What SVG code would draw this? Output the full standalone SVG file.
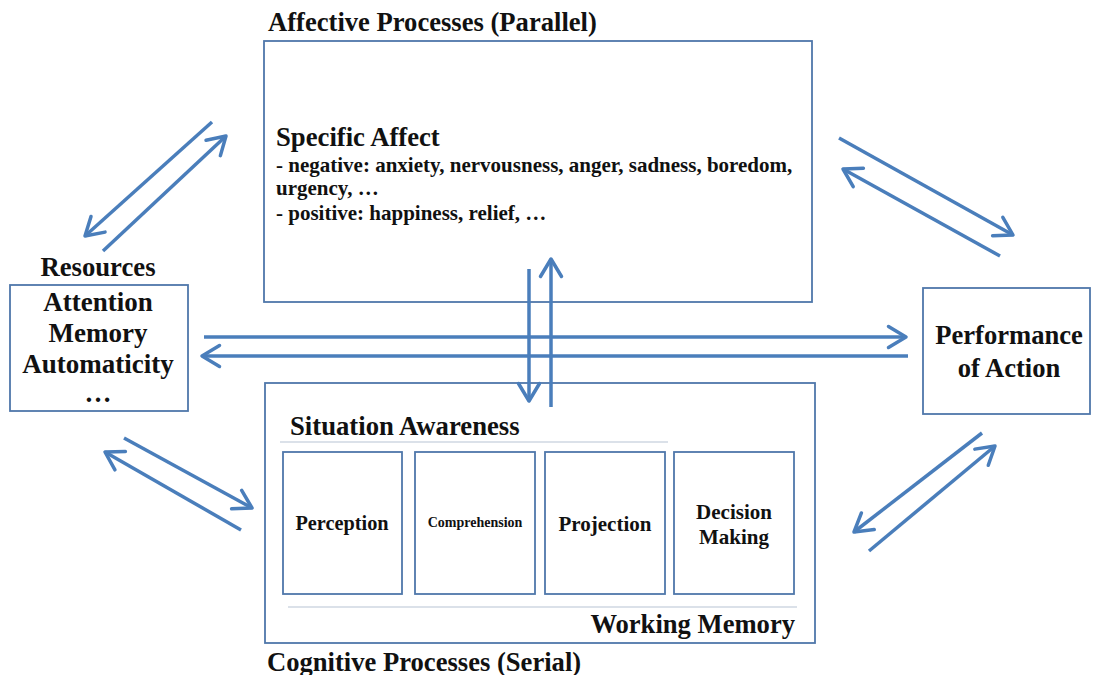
<svg xmlns="http://www.w3.org/2000/svg" width="1093" height="675" viewBox="0 0 1093 675">
<style>
.box{fill:#fff;stroke:#4f77aa;stroke-width:1.8}
.sep{stroke:#b8c4d4;stroke-width:1.2}
text{font-family:"Liberation Serif","Times New Roman",serif;font-weight:bold;fill:#111}
.c{text-anchor:middle}
.arr{stroke:#4a7ebb;stroke-width:3.5;fill:none;marker-end:url(#ah)}
</style>
<defs>
<marker id="ah" markerWidth="8" markerHeight="8" refX="6" refY="4" orient="auto" markerUnits="strokeWidth">
<path d="M1,1 L6,4 L1,7" fill="none" stroke="#4a7ebb" stroke-width="1" stroke-linecap="round" stroke-linejoin="round"/>
</marker>
</defs>
<rect width="1093" height="675" fill="#fff"/>

<g id="affective">
<text x="268" y="31" font-size="26.6">Affective Processes (Parallel)</text>
<rect class="box" x="264" y="41" width="548" height="261"/>
<text x="276" y="146" font-size="26.7">Specific Affect</text>
<text x="276" y="172" font-size="21">- negative: anxiety, nervousness, anger, sadness, boredom,</text>
<text x="276" y="195" font-size="21">urgency, …</text>
<text x="276" y="220" font-size="21">- positive: happiness, relief, …</text>
</g>

<g id="resources">
<text class="c" x="98" y="276" font-size="26.7">Resources</text>
<rect class="box" x="10" y="285" width="178" height="126"/>
<text class="c" x="98" y="311" font-size="27">Attention</text>
<text class="c" x="98" y="342" font-size="27">Memory</text>
<text class="c" x="98" y="373" font-size="27">Automaticity</text>
<text class="c" x="98" y="402" font-size="27">…</text>
</g>

<g id="performance">
<rect class="box" x="923" y="288" width="167" height="126"/>
<text class="c" x="1009" y="344" font-size="26.6">Performance</text>
<text class="c" x="1009" y="377" font-size="26.6">of Action</text>
</g>

<g id="cognitive">
<rect class="box" x="265" y="383" width="550" height="260"/>
<text x="267" y="671" font-size="26.6">Cognitive Processes (Serial)</text>
<text x="290" y="435" font-size="26.7">Situation Awareness</text>
<line class="sep" x1="280" y1="442" x2="668" y2="442"/>
<line class="sep" x1="288" y1="607" x2="797" y2="607"/>
<text x="795" y="633" font-size="26.6" text-anchor="end">Working Memory</text>
</g>

<g id="perception">
<rect class="box" x="283" y="452" width="119" height="142"/>
<text class="c" x="342" y="530" font-size="20.3">Perception</text>
</g>
<g id="comprehension">
<rect class="box" x="415" y="452" width="120" height="142"/>
<text class="c" x="475" y="527" font-size="14">Comprehension</text>
</g>
<g id="projection">
<rect class="box" x="545" y="452" width="120" height="142"/>
<text class="c" x="605" y="531" font-size="21">Projection</text>
</g>
<g id="decision">
<rect class="box" x="674" y="452" width="120" height="142"/>
<text class="c" x="734" y="519" font-size="21">Decision</text>
<text class="c" x="734" y="544" font-size="21">Making</text>
</g>

<g id="connectors">
<line class="arr" x1="204" y1="337" x2="906" y2="337"/>
<line class="arr" x1="908" y1="356" x2="202" y2="356"/>
<line class="arr" x1="529" y1="269" x2="529" y2="401"/>
<line class="arr" x1="551" y1="407" x2="551" y2="259"/>
<line class="arr" x1="212" y1="122" x2="85" y2="236"/>
<line class="arr" x1="103" y1="251" x2="226" y2="136"/>
<line class="arr" x1="839" y1="138" x2="1013" y2="235"/>
<line class="arr" x1="1000" y1="256" x2="843" y2="169"/>
<line class="arr" x1="124" y1="438" x2="252" y2="508"/>
<line class="arr" x1="241" y1="530" x2="105" y2="452"/>
<line class="arr" x1="982" y1="433" x2="854" y2="532"/>
<line class="arr" x1="869" y1="551" x2="995" y2="446"/>
</g>
</svg>
